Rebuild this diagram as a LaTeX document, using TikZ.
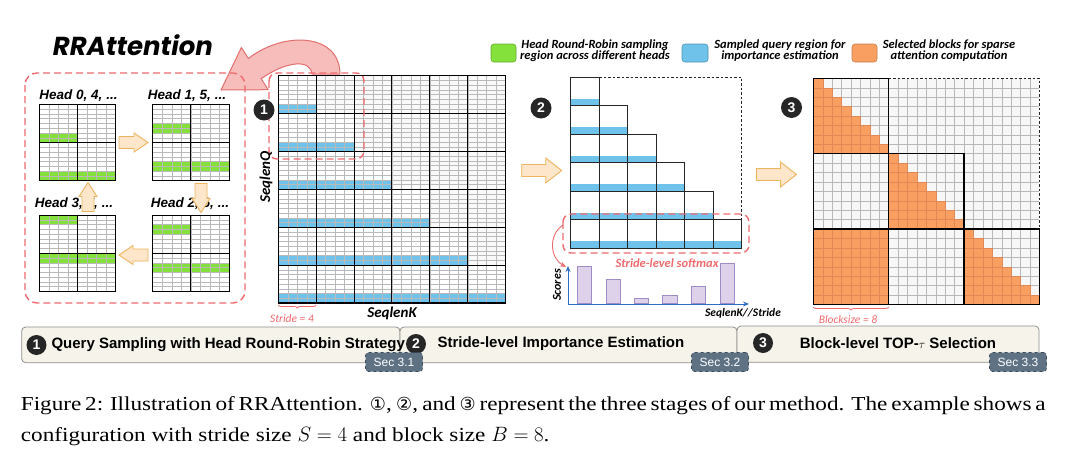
\documentclass[tikz,border=0pt]{standalone}
\usepackage{fontspec}
\setmainfont{Liberation Serif}
\newfontfamily\arialf{Liberation Sans}
\newfontfamily\calf{Carlito}
\newfontfamily\titlef{Poppins}
\newfontfamily\symf{DejaVu Sans}
\usetikzlibrary{decorations.pathreplacing,arrows.meta,calc}
\newcommand\fsz[1]{\fontsize{#1}{#1}\selectfont}
\definecolor{gr}{HTML}{84E13C}
\definecolor{bl}{HTML}{6FC3EB}
\definecolor{orf}{HTML}{FA9F62}
\definecolor{ord}{HTML}{D86A2C}
\definecolor{redd}{HTML}{EE6B6E}
\definecolor{arrfill}{HTML}{FDE6C9}
\definecolor{arrdraw}{HTML}{EDB45E}
\definecolor{pinkf}{HTML}{F7BDBB}
\definecolor{pinkd}{HTML}{E2706E}
\definecolor{lavf}{HTML}{DDD2EA}
\definecolor{lavd}{HTML}{A08CC4}
\definecolor{axb}{HTML}{2E6DC4}
\definecolor{tabf}{HTML}{F6F4EA}
\definecolor{tabd}{HTML}{8C8C8C}
\definecolor{secf}{HTML}{5F7284}
\definecolor{secd}{HTML}{3C4B5A}
\definecolor{badgeb}{HTML}{262626}
\tikzset{
  thingrid/.style={draw=gray!55, line width=0.4pt},
  thickgrid/.style={draw=black, line width=1.1pt},
  orcell/.style={fill=orf, draw=ord!80, line width=0.4pt},
  cellline/.style={draw=black!85, line width=0.9pt},
  reddash/.style={draw=redd, line width=1.4pt, dash pattern=on 7pt off 4pt, rounded corners=12pt},
  fatarr/.style={fill=arrfill, draw=arrdraw, line width=0.9pt},
  badge/.style={circle, fill=badgeb, text=white, font=\arialf\bfseries\fsz{14}, inner sep=0pt, minimum size=21pt},
  headlbl/.style={font=\arialf\bfseries\itshape\fsz{13.5}},
  leg/.style={font=\calf\bfseries\itshape\fsz{12.5}, align=center},
  axlbl/.style={font=\calf\bfseries\itshape\fsz{15}},
  redlbl/.style={font=\calf\itshape\fsz{11.5}, text=redd},
  tabbox/.style={fill=tabf, draw=tabd, line width=0.8pt, rounded corners=4pt},
  tabtxt/.style={font=\arialf\bfseries\fsz{15}},
  seclbl/.style={fill=secf, draw=secd, dashed, line width=0.6pt, rounded corners=3pt, text=white, font=\arialf\fsz{12}, inner sep=0pt, minimum width=57pt, minimum height=19pt},
  legbox/.style={rounded corners=3pt, line width=0.6pt},
  captxt/.style={anchor=base west, inner sep=0pt, font=\fsz{19.8}\addfontfeatures{FakeStretch=1.17}}
}
% fat arrow: x y angle length shafthalf headhalf headlen
\newcommand\fatarrow[7]{%
\begin{scope}[shift={(#1,#2)},rotate=#3]
\draw[fatarr] ({-#4/2},{-#5}) -- ({#4/2-#7},{-#5}) -- ({#4/2-#7},{-#6}) -- ({#4/2},0) -- ({#4/2-#7},{#6}) -- ({#4/2-#7},{#5}) -- ({-#4/2},{#5}) -- cycle;
\end{scope}}
\newcommand\headgrid[3]{%
 \fill[white] (#1,#2) rectangle ++(76.4,76.4);
 \fill[gr] (#1,{#2+#3*4.775}) rectangle ++(38.2,9.55);
 \fill[gr] (#1,{#2+(#3+8)*4.775}) rectangle ++(76.4,9.55);
 \foreach \i in {1,...,7} \draw[thingrid] ({#1+\i*9.55},#2) -- ++(0,76.4);
 \foreach \j in {1,...,15} \draw[thingrid] (#1,{#2+\j*4.775}) -- ++(76.4,0);
 \draw[thickgrid, line width=0.9pt] ({#1+38.2},#2) -- ++(0,76.4);
 \draw[thickgrid, line width=0.9pt] (#1,{#2+38.2}) -- ++(76.4,0);
 \draw[thickgrid, line width=0.9pt] (#1,#2) rectangle ++(76.4,76.4);
}
\begin{document}
\begin{tikzpicture}[x=1pt,y=-1pt]
\useasboundingbox[fill=white] (0,0) rectangle (1080,458);

% ---------- title ----------
\node[font=\titlef\bfseries\itshape\fsz{26}] (title) at (133,45) {RRAttention};

% ---------- big curved arrow ----------
\draw[fill=pinkf, draw=pinkd, line width=1pt, line join=round]
  (340,74) .. controls (340,34) and (285,30) .. (248.4,58.5) -- (241.4,47.5) -- (221,90) -- (268.2,89.7) -- (261.2,78.7)
  .. controls (285,62) and (310,58) .. (312,74) -- cycle;

% ---------- heads box ----------
\draw[reddash] (25,73) rectangle (245,303);
\headgrid{39.3}{104.3}{6}
\headgrid{152.7}{104.3}{4}
\headgrid{39.3}{215}{0}
\headgrid{152.7}{215}{2}
\node[headlbl] (h0) at (78.5,96) {Head 0, 4, ...};
\node[headlbl] (h1) at (187,96) {Head 1, 5, ...};
\node[headlbl] (h3) at (74,204) {Head 3, 7, ...};
\node[headlbl] (h2) at (190,204) {Head 2, 6, ...};
\fatarrow{133.5}{142.5}{0}{29}{6}{9.5}{14}
\fatarrow{201}{198}{-90}{29}{6}{9}{14}
\fatarrow{133.5}{255}{180}{29}{6}{9.5}{14}
\fatarrow{88}{197}{90}{29}{6}{9}{14}

% ---------- panel 1 ----------
\def\Ax{278.3}\def\Ay{75.7}\def\Acw{9.47}\def\Arh{4.735}
\fill[white] (\Ax,\Ay) rectangle ++(227.3,227.3);
\foreach \r in {0,...,4}{
  \pgfmathtruncatemacro\s{\r+1}
  \foreach \c in {\s,...,5}{
    \fill[gray!5] ({\Ax+4*\c*\Acw},{\Ay+8*\r*\Arh}) rectangle ++({4*\Acw},{8*\Arh});
  }
}
\foreach \k in {1,...,6}
  \fill[bl] (\Ax,{\Ay+(8*\k-2)*\Arh}) rectangle ({\Ax+4*\k*\Acw},{\Ay+8*\k*\Arh});
\foreach \i in {1,...,23} \draw[thingrid] ({\Ax+\i*\Acw},\Ay) -- ++(0,227.3);
\foreach \j in {1,...,47} \draw[thingrid] (\Ax,{\Ay+\j*\Arh}) -- ++(227.3,0);
\foreach \k in {0,...,6}{
  \draw[thickgrid] ({\Ax+4*\k*\Acw},\Ay) -- ++(0,227.3);
  \draw[thickgrid] (\Ax,{\Ay+8*\k*\Arh}) -- ++(227.3,0);
}
\draw[reddash, rounded corners=8pt] (269,73) rectangle (364,159);
\node[badge] (b1) at (264,110) {1};
\node[axlbl, rotate=90] (sq) at (266,177) {SeqlenQ};
\node[axlbl] (sk) at (392,313) {SeqlenK};
\draw[redd, line width=0.8pt, decorate, decoration={brace, mirror, amplitude=3pt}] (278.3,305) -- (316.2,305);
\node[redlbl] (st) at (292,319) {Stride = 4};

% ---------- legend ----------
\draw[legbox, fill=gr, draw=gr!75!black] (491,44) rectangle (516,62);
\node[leg] (lg1) at (595,51) {Head Round-Robin sampling\\[-1.5pt]region across different heads};
\draw[legbox, fill=bl, draw=bl!75!black] (682,44) rectangle (708,62);
\node[leg] (lg2) at (780,51) {Sampled query region for\\[-1.5pt]importance estimation};
\draw[legbox, fill=orf, draw=orf!80!black] (852,44) rectangle (877,62);
\node[leg] (lg3) at (949,51) {Selected blocks for sparse\\[-1.5pt]attention computation};

% ---------- arrows between panels ----------
\fatarrow{541.7}{170.5}{0}{40}{6}{12.5}{16}
\fatarrow{776.5}{174.5}{0}{40}{6}{12.5}{16}

% ---------- panel 2 ----------
\def\Bx{570.7}\def\By{77.3}\def\Bc{28.5}
\foreach \i in {1,...,6}
  \fill[bl] (\Bx,{\By+\i*\Bc-7.1}) rectangle ({\Bx+\i*\Bc},{\By+\i*\Bc});
\foreach \i in {1,...,6}{
  \foreach \j in {1,...,\i}{
    \draw[cellline] ({\Bx+(\j-1)*\Bc},{\By+(\i-1)*\Bc}) rectangle ++(\Bc,\Bc);
  }
}
\draw[black!85, line width=0.7pt, dash pattern=on 2.5pt off 2pt] ({\Bx+\Bc},\By) -- ({\Bx+6*\Bc},\By) -- ({\Bx+6*\Bc},{\By+5*\Bc});
\node[badge] (b2) at (541,108) {2};
\draw[reddash, rounded corners=8pt] (563,214) rectangle (749,253);
\node[font=\calf\bfseries\itshape\fsz{12.5}, text=redd] (sls) at (667,263) {Stride-level softmax};
\coordinate (cs) at (563,225);
\coordinate (ce) at (566,267);
\draw[redd, line width=0.9pt, -{Stealth[length=6pt,width=5pt]}] (cs) .. controls (548,235) and (550,258) .. (ce);
\coordinate (org) at (568,304);
\coordinate (yt) at (568,266);
\coordinate (xt) at (749,304);
\draw[axb, line width=1pt, -{Stealth[length=6pt,width=5pt]}] (org) -- (yt);
\draw[axb, line width=1pt, -{Stealth[length=6pt,width=5pt]}] (org) -- (xt);
\foreach \x/\t in {577.3/266, 606/279.3, 634.3/298, 662.7/295.3, 691.3/286.7, 720/263.3}
  \draw[fill=lavf, draw=lavd, line width=0.8pt] (\x,303.4) rectangle ({\x+14.5},\t);
\node[font=\calf\bfseries\itshape\fsz{12}, rotate=90] (sc) at (557,285) {Scores};
\node[font=\calf\bfseries\itshape\fsz{11.5}] (skst) at (743,313) {SeqlenK//Stride};

% ---------- panel 3 ----------
\def\Cx{813.3}\def\Cy{78.3}\def\Cc{9.42}
\fill[gray!6] (\Cx,\Cy) rectangle ++(226.1,226.1);
\foreach \i in {1,...,23} \draw[thingrid] ({\Cx+\i*\Cc},\Cy) -- ++(0,226.1);
\foreach \j in {1,...,23} \draw[thingrid] (\Cx,{\Cy+\j*\Cc}) -- ++(226.1,0);
\foreach \b in {0,1,2}{
  \foreach \r in {0,...,7}{
    \foreach \c in {0,...,\r}{
      \draw[orcell] ({\Cx+(8*\b+\c)*\Cc},{\Cy+(8*\b+\r)*\Cc}) rectangle ++(\Cc,\Cc);
    }
  }
}
\foreach \r in {0,...,7}{
  \foreach \c in {0,...,7}{
    \draw[orcell] ({\Cx+\c*\Cc},{\Cy+(16+\r)*\Cc}) rectangle ++(\Cc,\Cc);
  }
}
\foreach \bi/\bj in {0/0,1/0,1/1,2/0,2/1,2/2}
  \draw[thickgrid, line width=1.2pt] ({\Cx+8*\bj*\Cc},{\Cy+8*\bi*\Cc}) rectangle ++({8*\Cc},{8*\Cc});
\draw[black!85, line width=0.7pt, dash pattern=on 2.5pt off 2pt] ({\Cx+8*\Cc},\Cy) -- ({\Cx+24*\Cc},\Cy) -- ({\Cx+24*\Cc},{\Cy+16*\Cc});
\node[badge] (b3) at (791.5,107.5) {3};
\draw[redd, line width=0.8pt, decorate, decoration={brace, mirror, amplitude=3pt}] (813.3,307) -- (888.7,307);
\node[redlbl] (bs) at (848,320) {Blocksize = 8};

% ---------- tabs ----------
\draw[tabbox] (21.7,327) rectangle (400,362.7);
\draw[tabbox] (400,327) rectangle (737,362.7);
\draw[tabbox] (737,326) rectangle (1039,362.3);
\node[badge, minimum size=20pt] (t1b) at (36.5,345) {1};
\node[tabtxt, anchor=west] (t1) at (48,345) {Query Sampling with Head Round-Robin Strategy};
\node[badge, minimum size=20pt] (t2b) at (416,344) {2};
\node[tabtxt, anchor=west] (t2) at (434,344) {Stride-level Importance Estimation};
\node[badge, minimum size=20pt] (t3b) at (763,343) {3};
\node[tabtxt] (t3) at (898,343) {Block-level TOP-{\fsz{13}$\tau$} Selection};
\node[seclbl] (s1) at (394,362) {Sec 3.1};
\node[seclbl] (s2) at (720,362) {Sec 3.2};
\node[seclbl] (s3) at (1018,362) {Sec 3.3};

% ---------- caption ----------
\node[captxt] (cap1) at (20.7,410) {\makebox[1022pt][s]{Figure 2: Illustration of RRAttention. {\symf\fsz{18}①}, {\symf\fsz{18}②}, and {\symf\fsz{18}③} represent the three stages of our method. The example shows a}};
\node[captxt] (cap2) at (20.7,441.7) {configuration with stride size $S = 4$ and block size $B = 8$.};
\end{tikzpicture}
\end{document}
